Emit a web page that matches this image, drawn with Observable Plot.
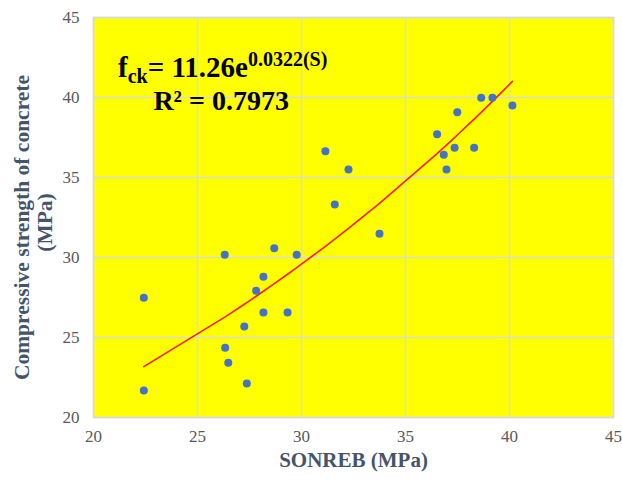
<!DOCTYPE html>
<html>
<head>
<meta charset="utf-8">
<script src="https://cdn.jsdelivr.net/npm/d3@7"></script>
<script src="https://cdn.jsdelivr.net/npm/@observablehq/plot@0.6"></script>
<style>
  html, body { margin: 0; padding: 0; background: #ffffff; }
  #chart svg { display: block; }
</style>
</head>
<body>
<div id="chart"></div>
<script>
// SONREB estimated strength (MPa) — x values
const sonreb = [22.42, 22.42, 26.31, 26.33, 26.48, 27.25, 27.37, 27.82, 28.17, 28.17,
                28.69, 29.33, 29.77, 31.15, 31.60, 32.26, 33.75, 36.52, 36.84, 36.97,
                37.36, 37.49, 38.30, 38.64, 39.18, 40.14];
// Compressive strength of concrete (MPa) — y values
const strength = [27.48, 21.69, 30.17, 24.36, 23.42, 25.69, 22.13, 27.92, 28.79, 26.56,
                  30.58, 26.56, 30.17, 36.64, 33.31, 35.50, 31.48, 37.71, 36.42, 35.50,
                  36.86, 39.08, 36.86, 39.98, 39.98, 39.50];
const xTicks = [20, 25, 30, 35, 40, 45];
const yTicks = [20, 25, 30, 35, 40, 45];
// Exponential trendline shown on the chart: fck = a * e^(b*S)
const fitA = 11.26;
const fitB = 0.0322;
const r2Text = "R² = 0.7973";
const xTitle = "SONREB (MPa)";
const yTitleLines = ["Compressive strength of concrete", "(MPa)"];

const points = sonreb.map((s, i) => ({s, f: strength[i]}));
const trend = [...sonreb].sort((a, b) => a - b).map(s => ({s, f: fitA * Math.exp(fitB * s)}));

const font = "'Liberation Serif', 'Times New Roman', serif";
const titleColor = "#44546A";
const tickColor = "#595959";
const gridColor = "#d9d9d9";

const plot = Plot.plot({
  width: 622,
  height: 479,
  marginTop: 17,
  marginRight: 9,
  marginBottom: 62,
  marginLeft: 93,
  style: {fontFamily: font, background: "#ffffff", overflow: "visible"},
  x: {domain: [20, 45], label: null},
  y: {domain: [20, 45], label: null},
  marks: [
    Plot.frame({fill: "#ffff00", stroke: null}),
    Plot.gridX(xTicks, {stroke: gridColor, strokeOpacity: 1, strokeWidth: 1.5}),
    Plot.gridY(yTicks, {stroke: gridColor, strokeOpacity: 1, strokeWidth: 1.5}),
    Plot.frame({stroke: gridColor, strokeWidth: 1.5}),
    Plot.axisX(xTicks, {tickSize: 0, tickPadding: 12, fontSize: 17, fill: tickColor, label: null}),
    Plot.axisY(yTicks, {tickSize: 0, tickPadding: 14, fontSize: 17, fill: tickColor, label: null}),
    Plot.line(trend, {x: "s", y: "f", stroke: "#ff1a00", strokeWidth: 1.6}),
    Plot.dot(points, {x: "s", y: "f", r: 4, fill: "#4472C4", stroke: null}),
    Plot.text([xTitle], {frameAnchor: "bottom", dy: 49, fontSize: 21, fontWeight: "bold", fill: titleColor, text: d => d}),
    Plot.text([yTitleLines[0]], {frameAnchor: "left", textAnchor: "middle", dx: -71, dy: 10, rotate: -90, fontSize: 21.5, fontWeight: "bold", fill: titleColor, text: d => d}),
    Plot.text([yTitleLines[1]], {frameAnchor: "left", textAnchor: "middle", dx: -48, dy: 5, rotate: -90, fontSize: 21.5, fontWeight: "bold", fill: titleColor, text: d => d}),
    Plot.text([r2Text], {x: 22.88, y: 39.25, textAnchor: "start", lineAnchor: "bottom", fontSize: 28, fontWeight: "bold", fill: "#000000", text: d => d})
  ]
});

// Equation with subscript / superscript as real SVG text
const sx = plot.scale("x"), sy = plot.scale("y");
const eq = d3.select(plot).append("text")
  .attr("x", sx.apply(21.2))
  .attr("y", sy.apply(41.25))
  .attr("text-anchor", "start")
  .attr("font-family", font)
  .attr("font-weight", "bold")
  .attr("fill", "#000000")
  .attr("font-size", 29);
eq.append("tspan").text("f");
eq.append("tspan").attr("font-size", 20).attr("dy", 6).text("ck");
eq.append("tspan").attr("dy", -6).text("= " + fitA.toFixed(2) + "e");
eq.append("tspan").attr("font-size", 20).attr("dy", -11).text(fitB.toFixed(4) + "(S)");

document.getElementById("chart").appendChild(plot);
</script>
</body>
</html>
